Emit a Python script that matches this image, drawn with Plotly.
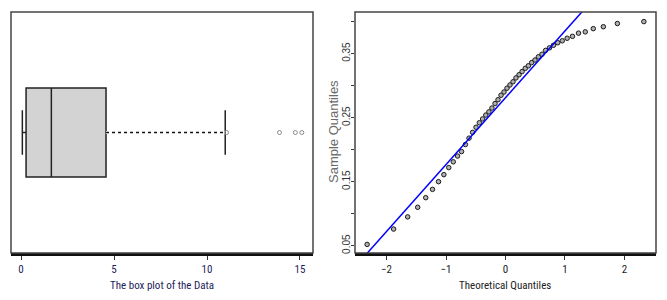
import plotly.graph_objects as go

# ---------------- data ----------------
# Left panel: box plot summary
box_q1 = [0.27]
box_median = [1.63]
box_q3 = [4.57]
box_lower_whisker = [0.07]
box_upper_whisker = [10.98]
box_outliers = [11.05, 13.9, 14.75, 15.1]
box_xticks = [0, 5, 10, 15]

# Right panel: normal Q-Q plot (n = 50)
qq_theoretical = [
    -2.326, -1.881, -1.645, -1.476, -1.341, -1.227, -1.126, -1.036, -0.954, -0.878,
    -0.806, -0.739, -0.674, -0.613, -0.553, -0.496, -0.440, -0.385, -0.332, -0.279,
    -0.228, -0.176, -0.126, -0.075, -0.025, 0.025, 0.075, 0.126, 0.176, 0.228,
    0.279, 0.332, 0.385, 0.440, 0.496, 0.553, 0.613, 0.674, 0.739, 0.806,
    0.878, 0.954, 1.036, 1.126, 1.227, 1.341, 1.476, 1.645, 1.881, 2.326,
]
qq_sample = [
    0.052, 0.076, 0.095, 0.110, 0.125, 0.138, 0.150, 0.161, 0.172, 0.181,
    0.190, 0.197, 0.208, 0.218, 0.227, 0.235, 0.242, 0.248, 0.254, 0.259,
    0.265, 0.272, 0.278, 0.285, 0.290, 0.296, 0.301, 0.306, 0.312, 0.317,
    0.322, 0.327, 0.331, 0.336, 0.340, 0.345, 0.349, 0.355, 0.359, 0.363,
    0.367, 0.370, 0.374, 0.377, 0.382, 0.384, 0.389, 0.392, 0.397, 0.400,
]
qq_line_intercept = 0.281
qq_line_slope = 0.1044
qq_line_x = [-3.0, 3.0]
qq_xticks = [-2, -1, 0, 1, 2]
qq_yticks = [0.05, 0.10, 0.15, 0.20, 0.25, 0.30, 0.35, 0.40]
qq_ytick_labels = ["0.05", "", "0.15", "", "0.25", "", "0.35", ""]

# ---------------- styling ----------------
NARROW = "Roboto Condensed, Liberation Sans Narrow, Arial Narrow, sans-serif"
SANS = "Liberation Sans, Arial, sans-serif"

fig = go.Figure()

# Box plot
fig.add_trace(go.Box(
    orientation="h",
    y=[0],
    q1=box_q1, median=box_median, q3=box_q3,
    lowerfence=box_lower_whisker, upperfence=box_upper_whisker,
    width=0.74, whiskerwidth=0.5,
    fillcolor="#d3d3d3",
    line=dict(color="#222222", width=1.5),
    boxpoints=False,
    xaxis="x", yaxis="y",
    hoverinfo="skip", showlegend=False,
))
# dashed upper whisker (R style)
fig.add_trace(go.Scatter(
    x=[box_q3[0], box_upper_whisker[0]], y=[0, 0], mode="lines",
    line=dict(color="white", width=3), xaxis="x", yaxis="y",
    hoverinfo="skip", showlegend=False,
))
fig.add_trace(go.Scatter(
    x=[box_q3[0], box_upper_whisker[0]], y=[0, 0], mode="lines",
    line=dict(color="#111111", width=1.5, dash="dot"), xaxis="x", yaxis="y",
    hoverinfo="skip", showlegend=False,
))
fig.add_trace(go.Scatter(
    x=box_outliers, y=[0] * len(box_outliers), mode="markers",
    marker=dict(symbol="circle-open", size=4, color="#8a8a8a", line=dict(width=1)),
    xaxis="x", yaxis="y", hoverinfo="skip", showlegend=False,
))

# Q-Q points
fig.add_trace(go.Scatter(
    x=qq_theoretical, y=qq_sample, mode="markers",
    marker=dict(symbol="circle", size=4.5, color="#b0b0b0",
                line=dict(color="#1a1a1a", width=1)),
    xaxis="x2", yaxis="y2", hoverinfo="skip", showlegend=False,
))
# Q-Q reference line
fig.add_trace(go.Scatter(
    x=qq_line_x, y=[qq_line_intercept + qq_line_slope * v for v in qq_line_x],
    mode="lines", line=dict(color="#0000ff", width=1.5),
    xaxis="x2", yaxis="y2", hoverinfo="skip", showlegend=False,
))

W, H = 667, 300
ytop, ybot = 12, 253
ydom = [(H - ybot) / H, (H - ytop) / H]

fig.update_layout(
    width=W, height=H,
    margin=dict(l=0, r=0, t=0, b=0),
    paper_bgcolor="white", plot_bgcolor="white",
    showlegend=False,
    xaxis=dict(
        domain=[11 / W, 313 / W], range=[-0.54, 15.7],
        tickvals=box_xticks, ticks="outside", ticklen=4, tickcolor="#333",
        showgrid=False, zeroline=False,
        showline=True, linecolor="#111111", linewidth=3,
        tickfont=dict(family=NARROW, size=11, color="#1c1c5c"),
        anchor="y",
    ),
    yaxis=dict(
        domain=ydom, range=[-1, 1], showticklabels=False, ticks="",
        showgrid=False, zeroline=False, showline=False, anchor="x",
    ),
    xaxis2=dict(
        domain=[355 / W, 656 / W], range=[-2.53, 2.53],
        tickvals=qq_xticks,
        ticks="outside", ticklen=4, tickcolor="#333",
        showgrid=False, zeroline=False,
        showline=True, linecolor="#111111", linewidth=3,
        tickfont=dict(family=NARROW, size=11, color="#222222"),
        anchor="y2",
    ),
    yaxis2=dict(
        domain=ydom, range=[0.0386, 0.415],
        tickvals=qq_yticks, ticktext=qq_ytick_labels, tickangle=-90,
        ticks="outside", ticklen=3, tickcolor="#333",
        ticklabelstandoff=-3,
        showgrid=False, zeroline=False, showline=False,
        tickfont=dict(family=SANS, size=10, color="#333333"),
        anchor="x2",
    ),
    shapes=[
        dict(type="rect", xref="x domain", yref="y domain", x0=0, x1=1, y0=0, y1=1,
             line=dict(color="#444444", width=1.5), layer="above"),
        dict(type="rect", xref="x2 domain", yref="y2 domain", x0=0, x1=1, y0=0, y1=1,
             line=dict(color="#444444", width=1.5), layer="above"),
    ],
    annotations=[
        dict(text="The box plot of the Data", xref="paper", yref="paper",
             x=162 / W, y=(H - 285) / H, xanchor="center", yanchor="middle",
             showarrow=False, font=dict(family=NARROW, size=11, color="#1c1c5c")),
        dict(text="Theoretical Quantiles", xref="paper", yref="paper",
             x=505 / W, y=(H - 285) / H, xanchor="center", yanchor="middle",
             showarrow=False, font=dict(family=NARROW, size=11, color="#222222")),
        dict(text="Sample Quantiles", xref="paper", yref="paper",
             x=334 / W, y=(H - 132) / H, xanchor="center", yanchor="middle",
             textangle=-90, showarrow=False,
             font=dict(family=SANS, size=13, color="#6a6a6a")),
    ],
)

fig.write_html("out.html", config={"displayModeBar": False},
               post_script="document.body.style.margin='0px';")
